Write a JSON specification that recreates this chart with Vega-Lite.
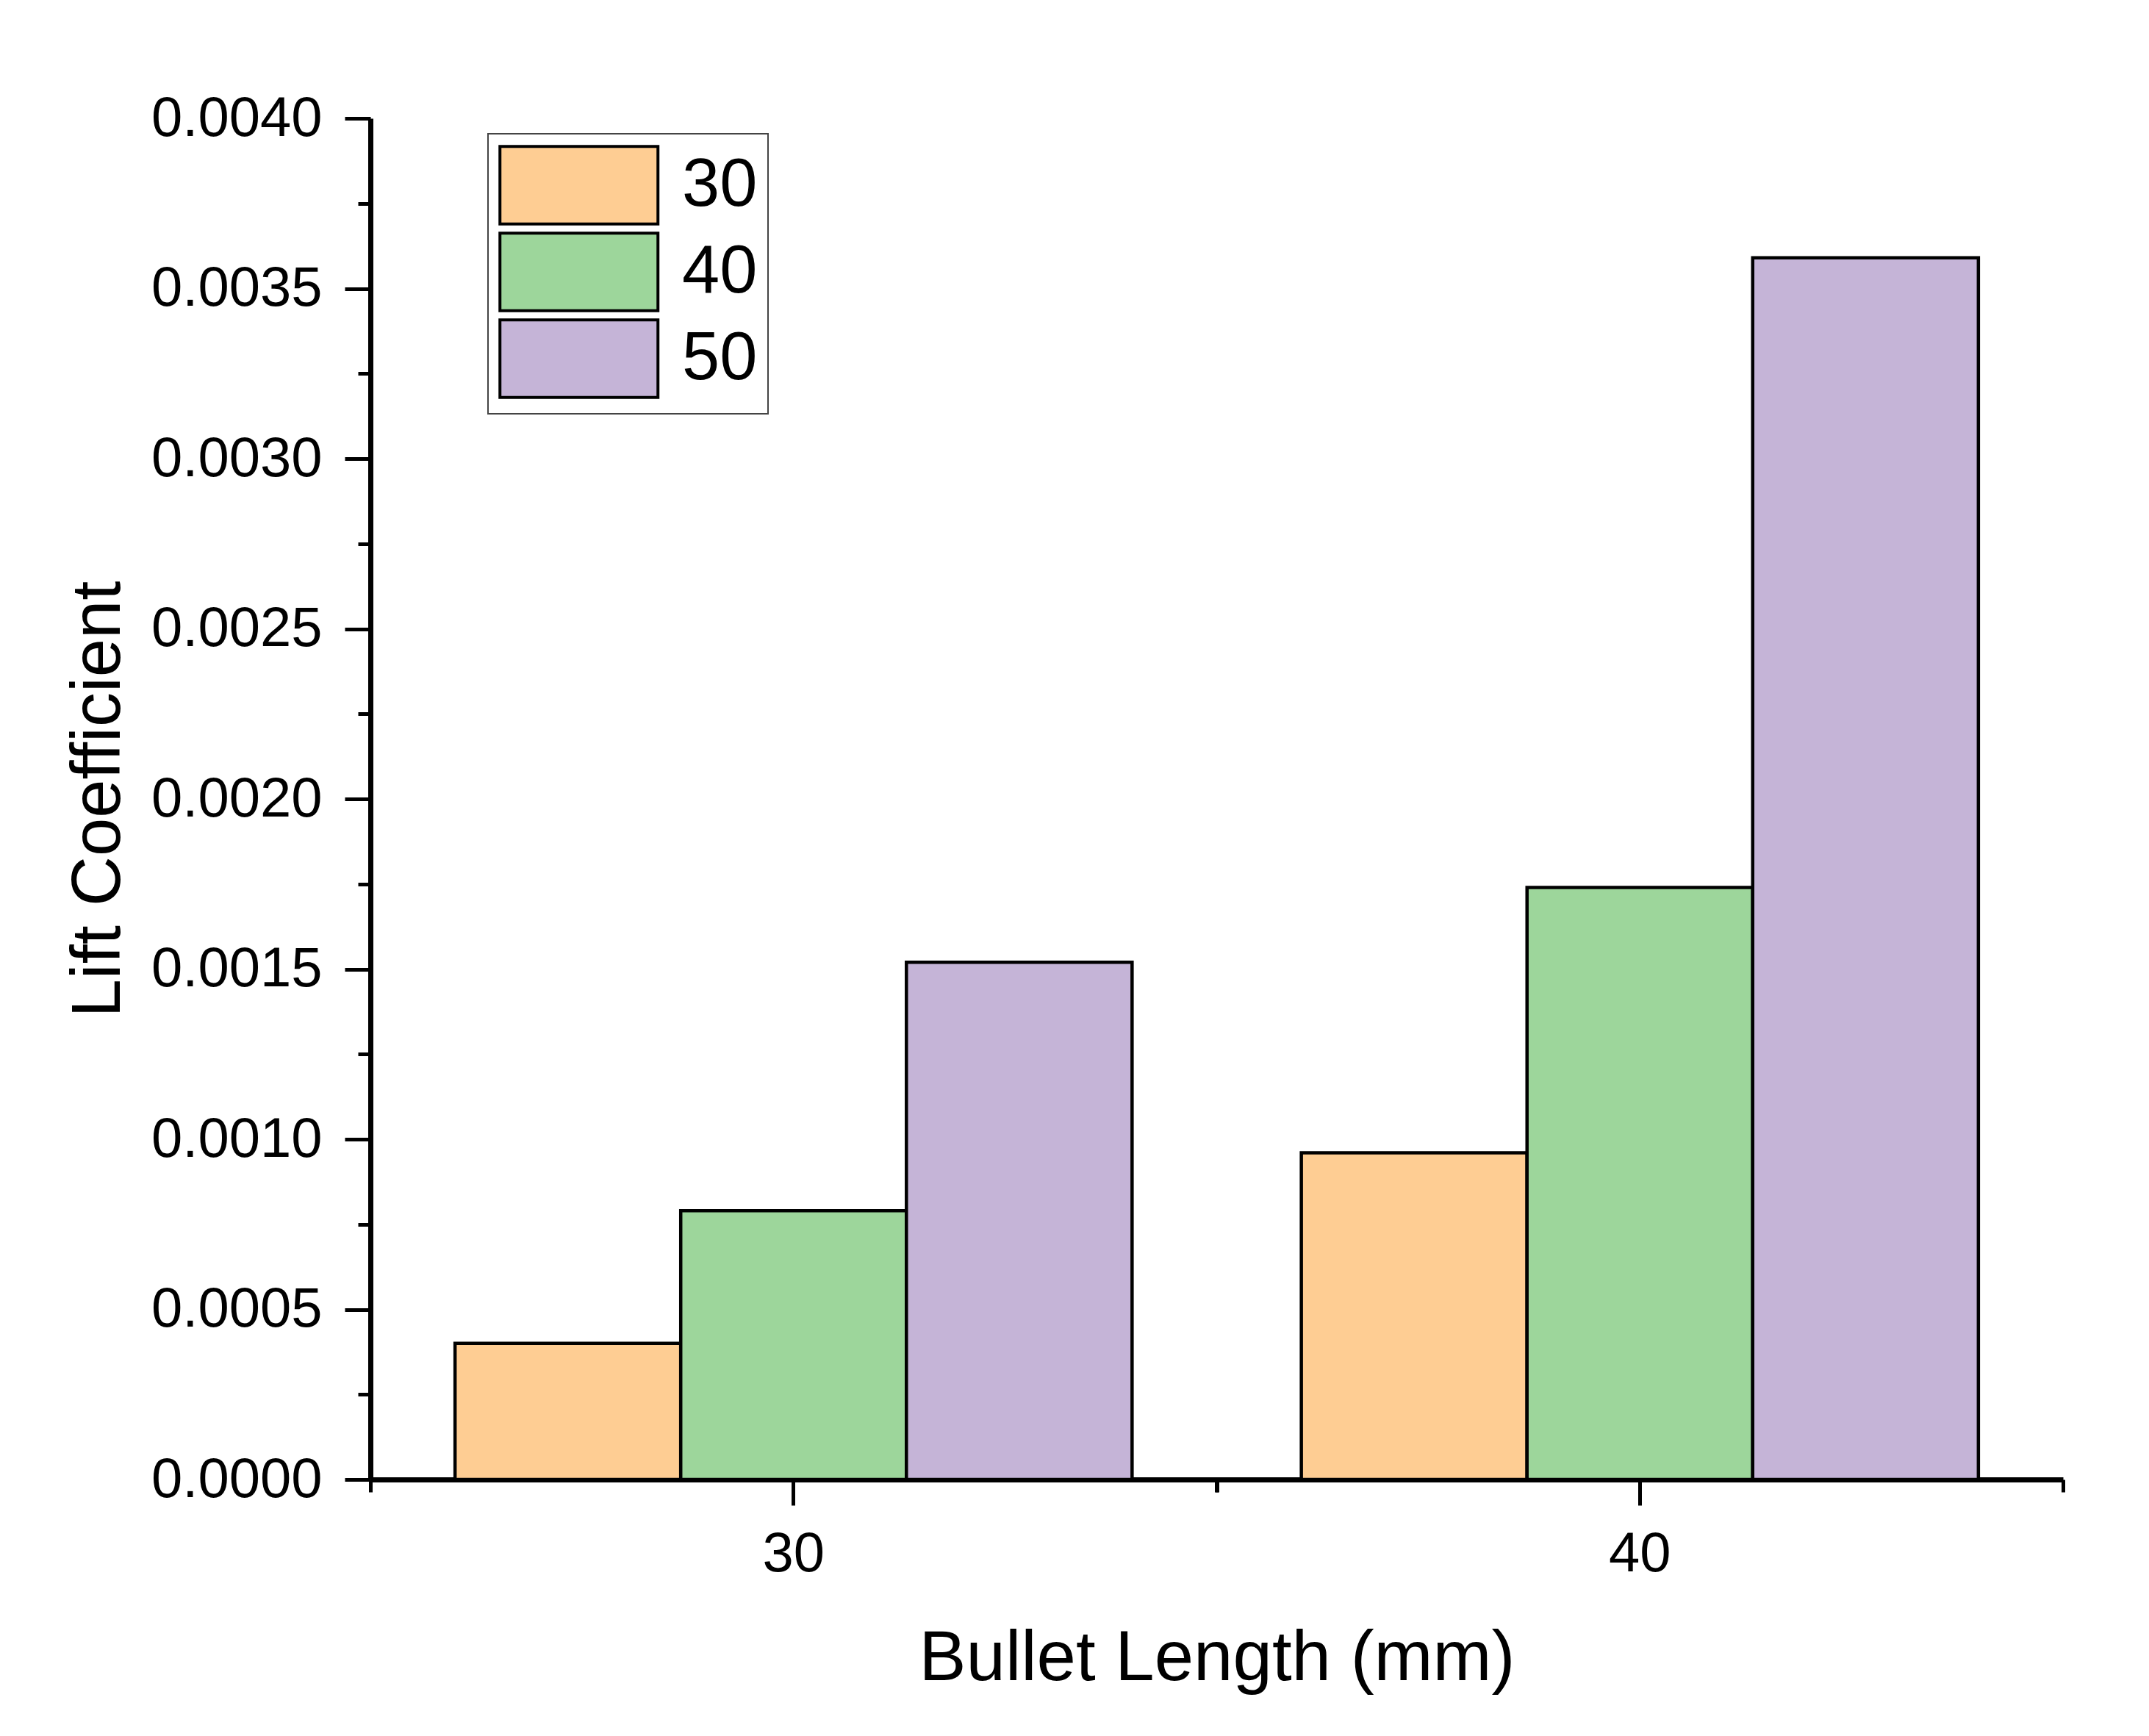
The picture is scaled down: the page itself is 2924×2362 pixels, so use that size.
{
  "$schema": "https://vega.github.io/schema/vega-lite/v6.json",
  "autosize": {"type": "none"},
  "padding": {"left": 504, "top": 161, "right": 117, "bottom": 349},
  "width": 2303,
  "height": 1852,
  "background": "white",
  "config": {
    "view": {"stroke": null},
    "font": "Liberation Sans",
    "axis": {"grid": false, "domainColor": "black", "tickColor": "black", "labelColor": "black", "titleColor": "black", "labelFont": "Liberation Sans", "titleFont": "Liberation Sans", "labelLimit": 0}
  },
  "data": {
    "values": [
      {"length": "30", "series": "30", "cl": 0.00040},
      {"length": "30", "series": "40", "cl": 0.00079},
      {"length": "30", "series": "50", "cl": 0.00152},
      {"length": "40", "series": "30", "cl": 0.00096},
      {"length": "40", "series": "40", "cl": 0.00174},
      {"length": "40", "series": "50", "cl": 0.00359}
    ]
  },
  "resolve": {"axis": {"x": "independent", "y": "independent"}},
  "layer": [
    {
      "mark": {"type": "bar", "stroke": "black", "strokeWidth": 4.5, "strokeJoin": "miter"},
      "encoding": {
        "x": {
          "field": "length", "type": "ordinal",
          "scale": {"paddingInner": 0.2, "paddingOuter": 0.1},
          "axis": {
            "orient": "bottom", "title": "Bullet Length (mm)", "labelAngle": 0,
            "labelFontSize": 76, "labelPadding": 29, "tickSize": 35, "tickWidth": 5,
            "domainWidth": 7, "titleFontSize": 96, "titleFontWeight": "normal", "titlePadding": 57
          }
        },
        "xOffset": {"field": "series", "type": "nominal", "scale": {"paddingInner": 0, "paddingOuter": 0}},
        "y": {
          "field": "cl", "type": "quantitative",
          "scale": {"domain": [0, 0.004], "nice": false, "zero": true},
          "axis": {
            "orient": "left", "title": "Lift Coefficient", "format": ".4f",
            "values": [0, 0.0005, 0.001, 0.0015, 0.002, 0.0025, 0.003, 0.0035, 0.004],
            "labelFontSize": 76, "labelPadding": 31, "tickSize": 35, "tickWidth": 5,
            "domainWidth": 7, "titleFontSize": 94, "titleFontWeight": "normal",
            "titleAngle": 270, "titleBaseline": "alphabetic", "titleAlign": "center",
            "titleX": -342, "titleY": 926
          }
        },
        "color": {
          "field": "series", "type": "nominal",
          "scale": {"domain": ["30", "40", "50"], "range": ["#FECD93", "#9DD69B", "#C5B4D7"]},
          "legend": {
            "title": null, "orient": "none", "legendX": 160, "legendY": 21,
            "padding": 14, "strokeColor": "#444444", "fillColor": "white",
            "symbolType": "M-1,-0.98H3V0.98H-1Z", "symbolSize": 11556,
            "symbolStrokeColor": "black", "symbolStrokeWidth": 4, "symbolOpacity": 1,
            "labelFontSize": 92, "labelFont": "Liberation Sans", "labelColor": "black",
            "labelOffset": 138, "rowPadding": -4,
            "encode": {"legend": {"update": {"strokeWidth": {"value": 2}}}}
          }
        }
      }
    },
    {
      "mark": {"type": "bar", "opacity": 0},
      "encoding": {
        "x": {
          "field": "length", "type": "ordinal",
          "scale": {"paddingInner": 0.2, "paddingOuter": 0.1},
          "axis": {
            "orient": "bottom", "title": null, "labels": false, "domain": false,
            "tickOffset": 576, "tickSize": 17, "tickWidth": 5
          }
        },
        "y": {
          "field": "cl", "type": "quantitative",
          "axis": {
            "orient": "left", "title": null, "labels": false, "domain": false,
            "values": [0.00025, 0.00075, 0.00125, 0.00175, 0.00225, 0.00275, 0.00325, 0.00375],
            "tickSize": 17, "tickWidth": 5
          }
        }
      }
    },
    {
      "mark": {"type": "bar", "opacity": 0},
      "encoding": {
        "x": {
          "field": "length", "type": "ordinal",
          "scale": {"paddingInner": 0.2, "paddingOuter": 0.1},
          "axis": {
            "orient": "bottom", "title": null, "labels": false, "domain": false,
            "tickOffset": -576, "tickSize": 17, "tickWidth": 5
          }
        },
        "y": {"field": "cl", "type": "quantitative", "axis": null}
      }
    }
  ]
}
